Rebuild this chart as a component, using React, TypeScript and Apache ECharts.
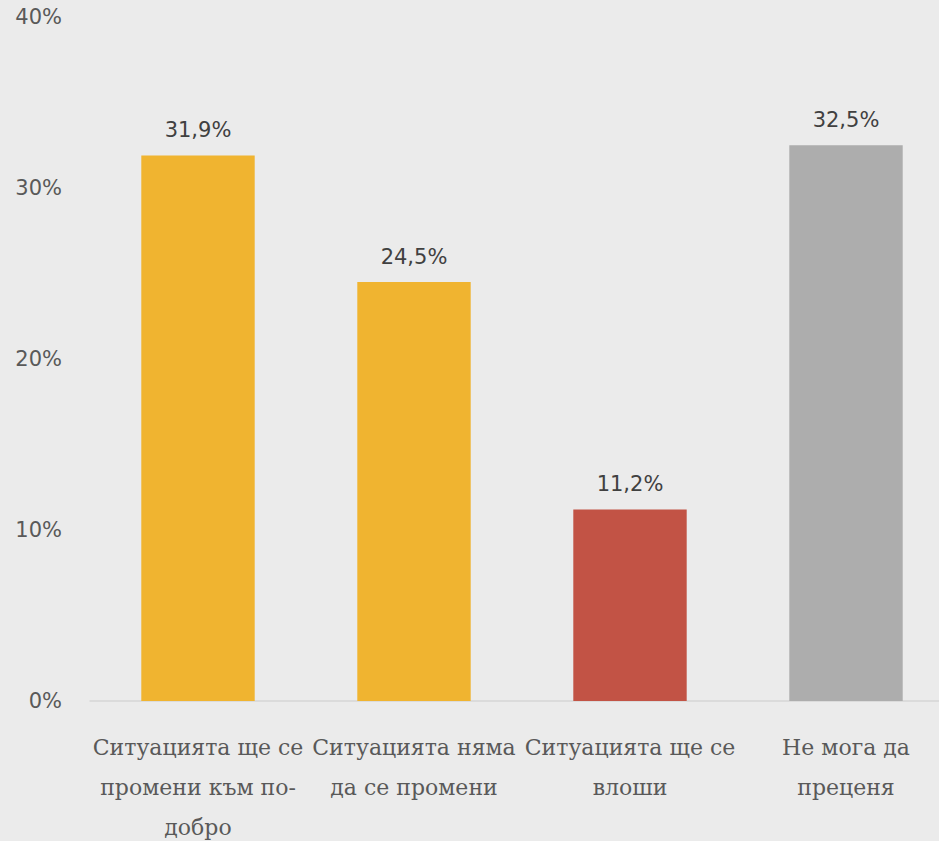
import React, { useEffect, useRef } from "react";
import * as echarts from "echarts";

const categories = [
  "Ситуацията ще се\nпромени към по-\nдобро",
  "Ситуацията няма\nда се промени",
  "Ситуацията ще се\nвлоши",
  "Не мога да\nпреценя",
];
const values = [31.9, 24.5, 11.2, 32.5];
const barColors = ["#F0B430", "#F0B430", "#C25345", "#ADADAD"];
const yTicks = { min: 0, max: 40, interval: 10 };

export default function App() {
  const ref = useRef<HTMLDivElement>(null);
  useEffect(() => {
    if (!ref.current) return;
    const chart = echarts.init(ref.current, null, { renderer: "svg" });
    chart.setOption({
      animation: false,
      backgroundColor: "#EBEBEB",
      grid: {
        left: 90,
        top: 17,
        width: 864,
        height: 684,
        containLabel: false,
        outerBoundsMode: "none",
      },
      xAxis: {
        type: "category",
        data: categories,
        axisLine: { lineStyle: { color: "#D6D6D6", width: 1.5 } },
        axisTick: { show: false },
        axisLabel: {
          interval: 0,
          margin: 26,
          fontFamily: "'DejaVu Serif', 'Liberation Serif', serif",
          fontSize: 22,
          lineHeight: 40,
          color: "#595959",
          align: "center",
        },
      },
      yAxis: {
        type: "value",
        min: yTicks.min,
        max: yTicks.max,
        interval: yTicks.interval,
        splitLine: { show: false },
        axisLine: { show: false },
        axisTick: { show: false },
        axisLabel: {
          formatter: "{value}%",
          margin: 28,
          fontFamily: "'DejaVu Sans', sans-serif",
          fontSize: 21,
          color: "#595959",
        },
      },
      series: [
        {
          type: "bar",
          barWidth: "52.5%",
          data: values.map((v, i) => ({ value: v, itemStyle: { color: barColors[i] } })),
          label: {
            show: true,
            position: "top",
            distance: 15,
            fontFamily: "'DejaVu Sans', sans-serif",
            fontSize: 21,
            color: "#404040",
            formatter: (p: any) => String(p.value).replace(".", ",") + "%",
          },
        },
      ],
    });
    return () => chart.dispose();
  }, []);
  return (
    <div style={{ position: "fixed", left: 0, top: 0, width: 939, height: 841, overflow: "hidden" }}>
      <div ref={ref} style={{ width: 939, height: 841 }} />
    </div>
  );
}
